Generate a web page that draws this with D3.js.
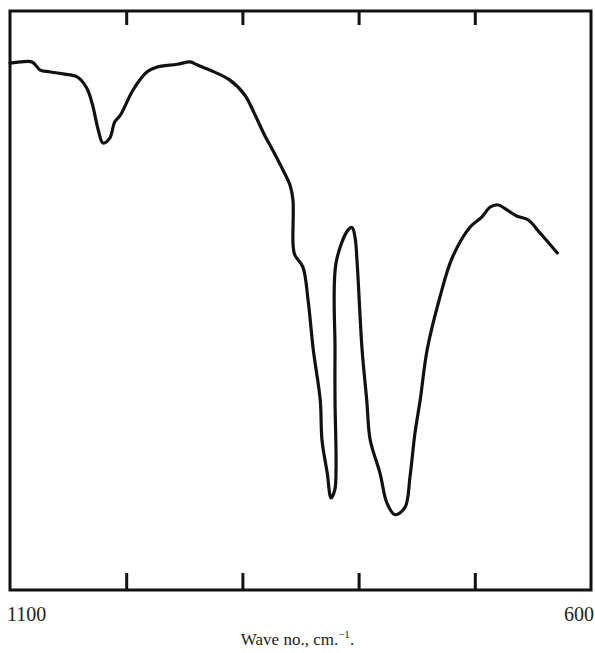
<!DOCTYPE html>
<html lang="en">
  <head>
    <meta charset="UTF-8" />
    <title>IR spectrum 1100-600</title>
    <script src="https://d3js.org/d3.v7.min.js"></script>
    <style>
      body {
        margin: 0;
        background: #fff;
      }
      .frame line,
      .frame rect {
        stroke: #111;
        stroke-width: 3px;
      }
      .tick text {
        display: none;
      }
      .label {
        font-family: "Liberation Serif", "DejaVu Serif", serif;
        fill: #222;
      }
    </style>
  </head>
  <body>
    <div id="chart"></div>

    <script>
      // wave number (cm-1)
      const waveNo = [
        1100, 1091, 1081, 1074, 1066, 1053, 1042, 1034, 1029, 1024, 1020,
        1014, 1010, 1005, 994, 982, 974, 956, 945, 939, 928, 911, 898, 889,
        881, 874, 865, 859, 856.5, 856.4, 855, 848, 843.5, 839, 833, 831.5,
        827, 823.7, 820.5, 819.4, 820.3, 820.3, 819.4, 809, 805.6, 803, 801.4,
        797, 793, 790, 781.6, 775.6, 768.7, 760, 755.8, 751.5, 747, 741, 730,
        719.6, 704, 694, 687, 680, 672, 664, 654, 644, 629,
      ];
      // transmission (arbitrary %, 0 = bottom of frame)
      const transmission = [
        91.0, 91.2, 91.2, 89.8, 89.5, 89.1, 88.6, 86.7, 83.8, 79.4, 77.2,
        78.1, 80.8, 82.0, 86.4, 89.5, 90.3, 90.8, 91.2, 90.7, 89.8, 88.1,
        85.5, 82.0, 78.6, 76.0, 72.5, 69.9, 67.4, 59.6, 57.9, 55.8, 50.1,
        41.5, 32.8, 25.9, 20.2, 15.9, 17.3, 21.2, 32.8, 41.5, 56.5, 62.2,
        62.6, 60.8, 57.0, 41.5, 32.8, 25.9, 20.2, 15.0, 13.0, 14.3, 19.5,
        27.1, 32.8, 41.5, 50.6, 57.3, 62.7, 64.4, 66.1, 66.5, 65.6, 64.6,
        63.9, 61.7, 58.2,
      ];
      const innerTicks = [1000, 900, 800, 700];
      const endLabels = ["1100", "600"];
      const axisTitle = "Wave no., cm.";

      const width = 595;
      const height = 653;
      const margin = { top: 11, right: 4, bottom: 63, left: 10 };

      const x = d3
        .scaleLinear()
        .domain([1100, 600])
        .range([margin.left, width - margin.right]);
      const y = d3
        .scaleLinear()
        .domain([0, 100])
        .range([height - margin.bottom, margin.top]);

      const svg = d3
        .select("#chart")
        .append("svg")
        .attr("width", width)
        .attr("height", height);

      const frame = svg.append("g").attr("class", "frame");

      frame
        .append("rect")
        .attr("x", x(1100))
        .attr("y", y(100))
        .attr("width", x(600) - x(1100))
        .attr("height", y(0) - y(100))
        .attr("fill", "none");

      // inward ticks, bottom and top
      frame
        .append("g")
        .attr("transform", `translate(0,${y(0)})`)
        .call(
          d3.axisBottom(x).tickValues(innerTicks).tickSizeInner(-17).tickSizeOuter(0)
        )
        .call((g) => g.select(".domain").remove())
        .call((g) => g.selectAll(".tick line").attr("stroke", "#111").attr("stroke-width", 3));

      frame
        .append("g")
        .attr("transform", `translate(0,${y(100)})`)
        .call(
          d3.axisTop(x).tickValues(innerTicks).tickSizeInner(-14).tickSizeOuter(0)
        )
        .call((g) => g.select(".domain").remove())
        .call((g) => g.selectAll(".tick line").attr("stroke", "#111").attr("stroke-width", 3));

      const data = waveNo.map((w, i) => ({ w, t: transmission[i] }));

      const line = d3
        .line()
        .x((d) => x(d.w))
        .y((d) => y(d.t))
        .curve(d3.curveCatmullRom.alpha(0.5));

      svg
        .append("path")
        .datum(data)
        .attr("d", line)
        .attr("fill", "none")
        .attr("stroke", "#111")
        .attr("stroke-width", 3.2)
        .attr("stroke-linejoin", "round")
        .attr("stroke-linecap", "round");

      // end labels
      svg
        .append("text")
        .attr("class", "label")
        .attr("x", x(1100) - 3)
        .attr("y", y(0) + 31)
        .attr("font-size", 20)
        .text(endLabels[0]);

      svg
        .append("text")
        .attr("class", "label")
        .attr("x", x(600) + 3)
        .attr("y", y(0) + 31)
        .attr("text-anchor", "end")
        .attr("font-size", 20)
        .text(endLabels[1]);

      const title = svg
        .append("text")
        .attr("class", "label")
        .attr("x", width / 2)
        .attr("y", y(0) + 55)
        .attr("text-anchor", "middle")
        .attr("font-size", 17);
      title.append("tspan").text(axisTitle);
      title.append("tspan").attr("font-size", 11).attr("dy", -7).text("\u22121");
      title.append("tspan").attr("dy", 7).text(".");
    </script>
  </body>
</html>
